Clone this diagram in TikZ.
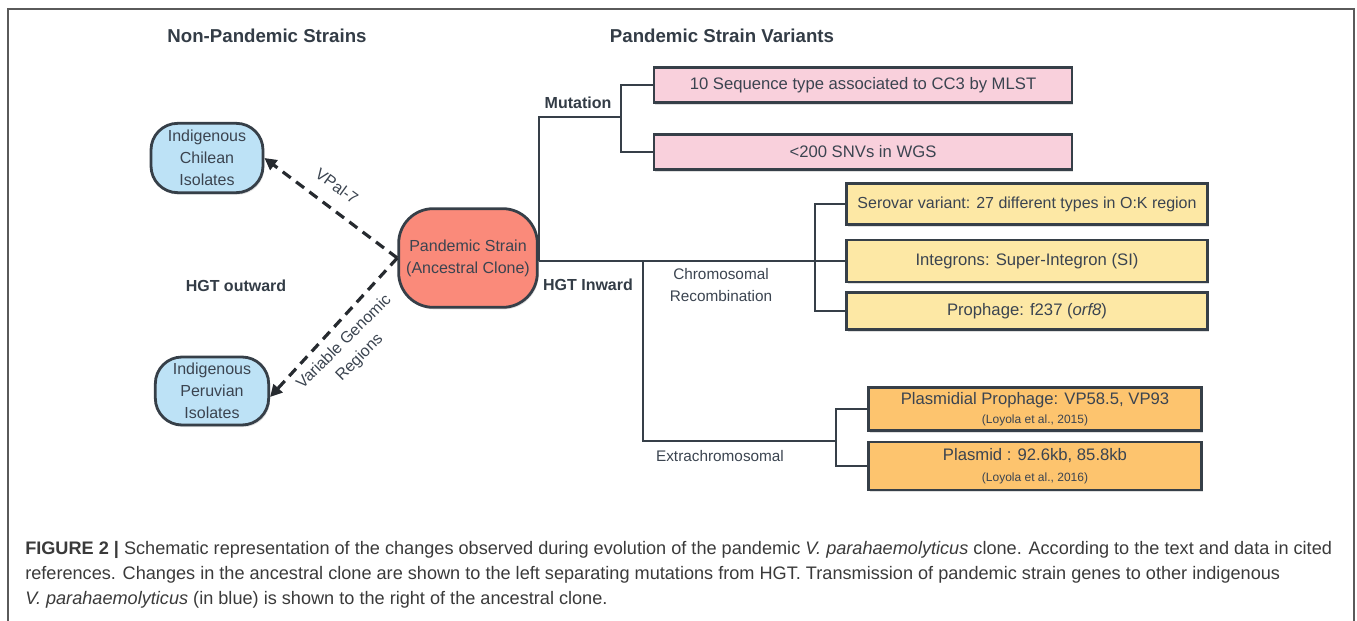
\documentclass[tikz,border=0pt]{standalone}
\usepackage{fontspec}
\setmainfont{Liberation Sans}
\usetikzlibrary{arrows.meta,shadows}

\definecolor{edgec}{HTML}{363F48}
\definecolor{txtc}{HTML}{3B4450}
\definecolor{headc}{HTML}{333C46}
\definecolor{dashc}{HTML}{262A2F}
\definecolor{framec}{HTML}{5A5A5A}
\definecolor{capc}{HTML}{3A3A3A}
\definecolor{indigblue}{HTML}{BDE2F6}
\definecolor{clonered}{HTML}{FA8A7A}
\definecolor{mutpink}{HTML}{F9D0DC}
\definecolor{chromyellow}{HTML}{FDE8A5}
\definecolor{extraorange}{HTML}{FDC46E}

\begin{document}
\begin{tikzpicture}[x=0.75pt,y=-0.75pt,
  strain/.style={draw=edgec,line width=2.1pt,rounded corners=20pt,align=center,inner sep=0pt,
    text=txtc,font=\fontsize{12}{16.5}\selectfont,
    drop shadow={shadow xshift=1pt,shadow yshift=-1.5pt,opacity=.25}},
  varbox/.style={draw=edgec,line width=2.1pt,align=center,inner sep=0pt,
    text=txtc,font=\fontsize{12.5}{15}\selectfont,
    drop shadow={shadow xshift=1pt,shadow yshift=-1.5pt,opacity=.25}},
  head/.style={font=\bfseries\fontsize{14}{17}\selectfont,text=headc},
  branchlab/.style={font=\bfseries\fontsize{12}{15}\selectfont,text=headc},
  plainlab/.style={font=\fontsize{11.5}{17}\selectfont,text=txtc,align=center},
  tree/.style={draw=edgec,line width=2.2pt},
  xfer/.style={draw=dashc,line width=2.4pt,dash pattern=on 7.5pt off 5pt,
    -{Triangle[length=9pt,width=9pt]}},
]
  \useasboundingbox (0,0) rectangle (1357,621);
  \draw[framec,line width=1.2pt] (8,621) -- (8,9) -- (1354,9) -- (1354,621);

  % column headings
  \node[head] (nonpand) at (267,36) {Non-Pandemic Strains};
  \node[head] (pandvar) at (722,36) {Pandemic Strain Variants};

  % strains
  \node[strain,fill=clonered,minimum width=104pt,minimum height=74pt,rounded corners=26pt]
    (pand) at (468,258) {Pandemic Strain\\(Ancestral Clone)};
  \node[strain,fill=indigblue,minimum width=84pt,minimum height=52pt] (chile) at (207,158)
    {Indigenous\\Chilean\\Isolates};
  \node[strain,fill=indigblue,minimum width=85pt,minimum height=51pt] (peru) at (212,391)
    {Indigenous\\Peruvian\\Isolates};

  % HGT outward
  \draw[xfer] (pand.west) -- (chile.east);
  \draw[xfer] (pand.west) -- ([yshift=-4.5pt]peru.east);
  \node[plainlab,font=\fontsize{12}{16.5}\selectfont,rotate=-36] (vpal) at (337,186) {VPal-7};
  \node[plainlab,font=\fontsize{12}{16.5}\selectfont,rotate=45] (vgr) at (352,350)
    {Variable Genomic\\Regions};
  \node[branchlab] (hgtout) at (236,286) {HGT outward};

  % mutation
  \node[varbox,fill=mutpink,minimum width=313.5pt,minimum height=26.25pt] (seqtype) at (863,85)
    {10 Sequence type associated to CC3 by MLST};
  \node[varbox,fill=mutpink,minimum width=313.5pt,minimum height=26.25pt] (snv) at (863,152)
    {<200 SNVs in WGS};
  \node[branchlab] (mut) at (578,103) {Mutation};

  % chromosomal recombination
  \node[varbox,fill=chromyellow,minimum width=270.75pt,minimum height=30.75pt,
    font=\fontsize{12}{15}\selectfont] (serovar) at (1027,204)
    {Serovar variant: 27 different types in O:K region};
  \node[varbox,fill=chromyellow,minimum width=270.75pt,minimum height=31.5pt] (integ) at (1027,261)
    {Integrons: Super-Integron (SI)};
  \node[varbox,fill=chromyellow,minimum width=270.75pt,minimum height=27.75pt] (proph) at (1027,311)
    {Prophage: f237 (\textit{orf8})};
  \node[branchlab] (hgtin) at (588,285) {HGT Inward};
  \node[plainlab] (chromo) at (721,285) {Chromosomal\\Recombination};

  % extrachromosomal
  \node[varbox,fill=extraorange,minimum width=249.75pt,minimum height=32.25pt] (plproph) at (1035,409)
    {Plasmidial Prophage: VP58.5, VP93\\[-1pt]{\fontsize{9}{10}\selectfont (Loyola et al., 2015)}};
  \node[varbox,fill=extraorange,minimum width=249.75pt,minimum height=36pt] (plasmid) at (1035,466)
    {Plasmid : 92.6kb, 85.8kb\\[1pt]{\fontsize{9}{10}\selectfont (Loyola et al., 2016)}};
  \node[plainlab] (extra) at (720,456) {Extrachromosomal};

  % tree
  \coordinate (root) at (539,261);
  \coordinate (jm) at (621,117);
  \coordinate (jc) at (815,261);
  \coordinate (je) at (643,261);
  \coordinate (jx) at (836,441);
  \draw[tree] (root) |- (jm);
  \draw[tree] (seqtype.west) -| (jm) |- (snv.west);
  \draw[tree] (root) -- (jc);
  \draw[tree] (serovar.west) -| (jc) |- (proph.west);
  \draw[tree] (jc) -- (integ.west);
  \draw[tree] (je) |- (jx);
  \draw[tree] (plproph.west) -| (jx) |- (plasmid.west);

  % caption
  \node[anchor=north west,align=left,text=capc,font=\fontsize{13.6}{18.75}\selectfont,inner sep=0pt] (cap) at (25,541)
    {\textbf{FIGURE 2 |} Schematic representation of the changes observed during evolution of the pandemic \textit{V. parahaemolyticus} clone. According to the text and data in cited\\
     references. Changes in the ancestral clone are shown to the left separating mutations from HGT. Transmission of pandemic strain genes to other indigenous\\
     \textit{V. parahaemolyticus} (in blue) is shown to the right of the ancestral clone.};
\end{tikzpicture}
\end{document}
